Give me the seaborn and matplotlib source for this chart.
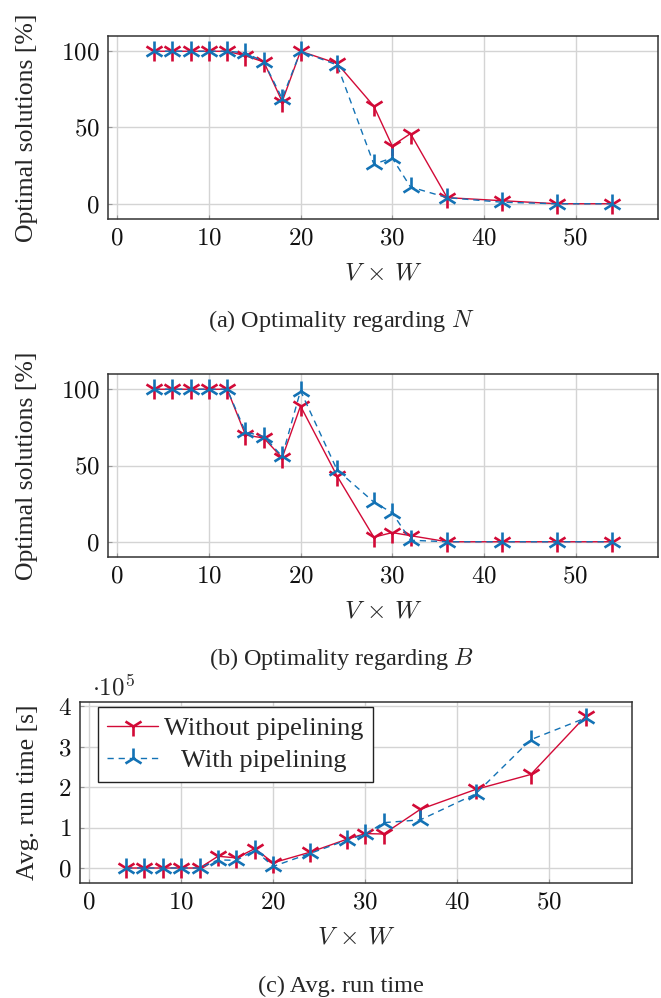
import matplotlib
matplotlib.use("Agg")
import matplotlib.pyplot as plt
from matplotlib.ticker import FuncFormatter, MultipleLocator
import seaborn as sns
import pandas as pd

VW = [4, 6, 8, 10, 12, 14, 16, 18, 20, 24, 28, 30, 32, 36, 42, 48, 54]

a_without = [100, 100, 100, 100, 100, 97, 93, 67, 100, 92, 64, 38, 46, 4, 2, 0, 0]
a_with = [100, 100, 100, 100, 100, 99, 93, 69, 100, 91, 26, 30, 11, 4, 1, 0, 0]

b_without = [100, 100, 100, 100, 100, 70, 68, 55, 89, 43, 3, 6, 4, 0, 0, 0, 0]
b_with = [100, 100, 100, 100, 100, 72, 69, 56, 99, 47, 26, 19, 1, 0, 0, 0, 0]

# run time in units of 10^5 s
c_without = [0, 0, 0, 0, 0, 0.29, 0.25, 0.48, 0.13, 0.39, 0.71, 0.85, 0.84, 1.45, 1.94, 2.31, 3.76]
c_with = [0, 0, 0, 0, 0, 0.20, 0.19, 0.44, 0.04, 0.36, 0.69, 0.83, 1.12, 1.19, 1.83, 3.17, 3.71]

series_names = ["Without pipelining", "With pipelining"]
captions = ["(a) Optimality regarding $N$", "(b) Optimality regarding $B$", "(c) Avg. run time"]
ylabels = ["Optimal solutions [%]", "Optimal solutions [%]", "Avg. run time [s]"]
xlabel = r"$V \,\times\, W$"

RED = "#d20a37"
BLUE = "#1372b5"

sns.set_theme(style="whitegrid")
plt.rcParams["font.family"] = ["Liberation Serif", "DejaVu Serif"]
plt.rcParams["mathtext.fontset"] = "cm"
FS = 18

W, H = 661, 998
fig = plt.figure(figsize=(W / 100, H / 100), dpi=100)


def px_axes(left, top, right, bottom):
    return fig.add_axes([left / W, 1 - bottom / H, (right - left) / W, (bottom - top) / H])


ax_a = px_axes(108, 36, 658, 219)
ax_b = px_axes(108, 374, 658, 557)
ax_c = px_axes(80, 702, 632, 883)

mathfmt = FuncFormatter(lambda v, p: f"${v:g}$")


def draw(ax, ywo, ywi, ylim, yticks_step):
    df = pd.DataFrame({"VW": VW, "without": ywo, "with": ywi})
    sns.lineplot(data=df, x="VW", y="without", ax=ax, color=RED, marker="1",
                 markersize=15, markeredgewidth=1.9, markeredgecolor=RED,
                 linewidth=1.0, label=series_names[0], legend=False)
    sns.lineplot(data=df, x="VW", y="with", ax=ax, color=BLUE, marker="2",
                 markersize=15, markeredgewidth=1.9, markeredgecolor=BLUE,
                 linewidth=1.0, linestyle=(0, (4.5, 3.5)),
                 label=series_names[1], legend=False)
    ax.set_xlim(-1, 59)
    ax.set_ylim(*ylim)
    ax.xaxis.set_major_locator(MultipleLocator(10))
    ax.yaxis.set_major_locator(MultipleLocator(yticks_step))
    ax.xaxis.set_major_formatter(mathfmt)
    ax.yaxis.set_major_formatter(mathfmt)
    ax.grid(True, color="#d4d4d4", linewidth=1.0)
    ax.set_axisbelow(True)
    for s in ax.spines.values():
        s.set_color("#333333")
        s.set_linewidth(1.1)
    ax.tick_params(axis="both", which="major", direction="in", length=3,
                   width=0.8, color="#999999", labelsize=FS, pad=6,
                   bottom=True, left=True, labelcolor="#111111")
    ax.set_xlabel(xlabel, fontsize=FS)
    ax.set_ylabel("", fontsize=FS)


draw(ax_a, a_without, a_with, (-10, 110), 50)
draw(ax_b, b_without, b_with, (-10, 110), 50)
draw(ax_c, c_without, c_with, (-0.37, 4.10), 1)

for ax, yl, (lx, ly) in [(ax_a, ylabels[0], (27, 127.5)), (ax_b, ylabels[1], (27, 465.5)),
                         (ax_c, ylabels[2], (28, 792.5))]:
    fig.text(lx / W, 1 - ly / H, yl, rotation=90, ha="center", va="center", fontsize=FS + 0.5)

for ax, top, bot, cy in [(ax_a, 36, 219, 274), (ax_b, 374, 557, 612), (ax_c, 702, 883, 938)]:
    ax.xaxis.set_label_coords(0.5, (bot - cy) / (bot - top))
    ax.xaxis.label.set_va("center")

for cap, cy in zip(captions, [321, 659, 986]):
    fig.text(341 / W, 1 - cy / H, cap, ha="center", va="center", fontsize=FS - 0.5)

fig.text(92 / W, 1 - 695 / H, r"$\cdot 10^5$", ha="left", va="baseline", fontsize=FS)

leg = ax_c.legend(loc="upper left", bbox_to_anchor=(0.033, 0.972), borderaxespad=0,
                  fontsize=FS + 1, frameon=True, fancybox=False, handlelength=1.9,
                  handletextpad=0.25, borderpad=0.35, labelspacing=0.35, numpoints=1)
leg.get_frame().set_edgecolor("#222222")
leg.get_frame().set_linewidth(1.0)
leg.get_frame().set_alpha(1)

# centre the shorter legend entry within the text column (as in the reference)
fig.canvas.draw()
renderer = fig.canvas.get_renderer()
texts = leg.get_texts()
widths = [t.get_window_extent(renderer).width for t in texts]
wmax = max(widths)
for t, w in zip(texts, widths):
    t.set_x((wmax - w) / 2)

fig.savefig("out.png", dpi=100)
